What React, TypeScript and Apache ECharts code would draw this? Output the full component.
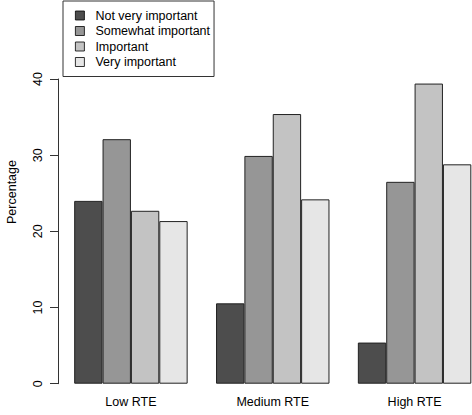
import React, { useEffect, useRef } from "react";
import * as echarts from "echarts";

const categories = ["Low RTE", "Medium RTE", "High RTE"];
const seriesNames = ["Not very important", "Somewhat important", "Important", "Very important"];
const notVeryImportant = [24.0, 10.55, 5.4];
const somewhatImportant = [32.1, 29.9, 26.5];
const important = [22.7, 35.4, 39.4];
const veryImportant = [21.35, 24.2, 28.8];
const yTicks = { min: 0, max: 40, interval: 10 };
const colors = ["#4D4D4D", "#969696", "#C3C3C3", "#E6E6E6"];

const FONT = "Liberation Sans, Arial, Helvetica, sans-serif";
const FS = 12.5;

export default function App() {
  const ref = useRef<HTMLDivElement>(null);
  useEffect(() => {
    if (!ref.current) return;
    const chart = echarts.init(ref.current, undefined, { renderer: "svg" });
    const data = [notVeryImportant, somewhatImportant, important, veryImportant];
    chart.setOption({
      animation: false,
      backgroundColor: "#ffffff",
      textStyle: { fontFamily: FONT },
      grid: {
        left: 60,
        top: 79,
        width: 425.5,
        height: 304.7,
        containLabel: false,
        outerBoundsMode: "none",
      },
      legend: {
        orient: "vertical",
        left: 63,
        top: 1,
        data: seriesNames,
        icon: "rect",
        itemWidth: 9,
        itemHeight: 9,
        itemGap: 2.5,
        padding: [8, 4, 8, 12],
        borderColor: "#333",
        borderWidth: 1,
        borderRadius: 0,
        textStyle: { fontFamily: FONT, fontSize: FS, color: "#000", padding: [0, 0, 0, 6] },
        itemStyle: { borderColor: "#000", borderWidth: 0.8 },
      },
      xAxis: {
        type: "category",
        data: categories,
        axisLine: { show: false },
        axisTick: { show: false },
        axisLabel: { fontFamily: FONT, fontSize: FS, color: "#000", margin: 11.5 },
      },
      yAxis: {
        type: "value",
        min: yTicks.min,
        max: yTicks.max,
        interval: yTicks.interval,
        offset: 2,
        splitLine: { show: false },
        axisLine: { show: true, lineStyle: { color: "#333", width: 1 } },
        axisTick: { show: true, length: 8, lineStyle: { color: "#333", width: 1 } },
        axisLabel: { rotate: 90, margin: 14, fontFamily: FONT, fontSize: FS, color: "#000" },
      },
      graphic: [
        {
          type: "text",
          x: 12,
          y: 192,
          rotation: Math.PI / 2,
          style: {
            text: "Percentage",
            fontFamily: FONT,
            fontSize: FS,
            fill: "#000",
            align: "center",
            verticalAlign: "middle",
          },
        },
      ],
      series: seriesNames.map((name, i) => ({
        name,
        type: "bar",
        data: data[i],
        barGap: "0%",
        barCategoryGap: "20%",
        itemStyle: { color: colors[i], borderColor: "#222", borderWidth: 1 },
      })),
    });
    return () => chart.dispose();
  }, []);
  return (
    <div
      ref={ref}
      style={{ position: "absolute", left: 0, top: 0, width: 472, height: 415 }}
    />
  );
}
